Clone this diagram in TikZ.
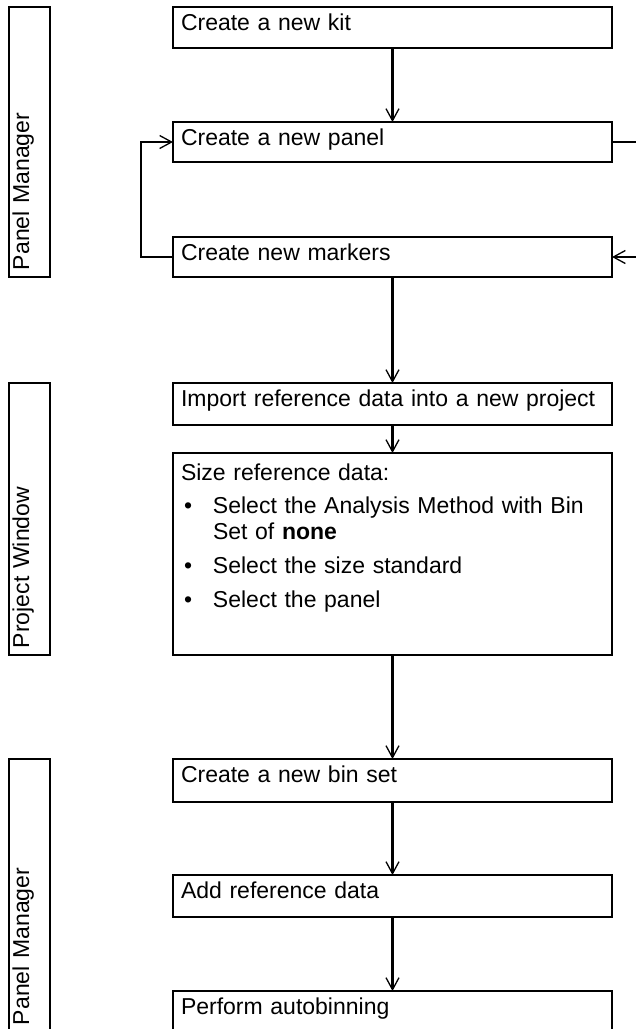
\documentclass[tikz,border=0pt]{standalone}
\usepackage{fontspec}
\setmainfont{Liberation Sans}
\usetikzlibrary{arrows.meta}
\tikzset{
  txt/.style={font=\fontsize{23}{26}\selectfont},
  stepbox/.style={txt, draw, line width=2.5pt, outer sep=0pt, anchor=north west,
    text width=423pt, inner xsep=8pt, inner ysep=0pt, align=left, text height=23pt},
  lanebox/.style={txt, draw, line width=2.5pt, outer sep=0pt, rotate=90, anchor=center,
    inner xsep=7pt, inner ysep=0pt, align=left, text height=20pt, text depth=21pt},
  conn/.style={line width=2.2pt},
  tip/.style={-{Straight Barb[length=12pt,width=13pt,line width=1.3pt]}}
}
\begin{document}
\begin{tikzpicture}[x=1pt,y=1pt]
\useasboundingbox (0,0) rectangle (636,-1029);
\clip (0,0) rectangle (636,-1029);
% lanes
\node[lanebox, text width=256pt] (lane1) at (29.5,-142) {Panel Manager};
\node[lanebox, text width=258pt] (lane2) at (29.5,-519) {Project Window};
\node[lanebox, text width=259pt] (lane3) at (29.5,-895.5) {Panel Manager};
% steps
\node[stepbox, text depth=18pt] (kit) at (173,-7) {Create a new kit};
\node[stepbox, text depth=17pt] (panel) at (173,-122) {Create a new panel};
\node[stepbox, text depth=17pt] (markers) at (173,-237) {Create new markers};
\node[stepbox, text depth=19pt] (import) at (173,-383) {Import reference data into a new project};
\node[stepbox, text height=27pt, text depth=175pt] (size) at (173,-453) {Size reference data:\\[7pt]
\hspace*{3pt}\makebox[29pt][l]{\textbullet}Select the Analysis Method with Bin\\
\hspace*{32pt}Set of \textbf{none}\\[8pt]
\hspace*{3pt}\makebox[29pt][l]{\textbullet}Select the size standard\\[8pt]
\hspace*{3pt}\makebox[29pt][l]{\textbullet}Select the panel};
\node[stepbox, text depth=20pt] (binset) at (173,-759) {Create a new bin set};
\node[stepbox, text depth=19pt] (addref) at (173,-875) {Add reference data};
\node[stepbox, text depth=18pt] (perform) at (173,-991) {Perform autobinning};
% connectors
\draw[conn,tip] (kit.south) -- (panel.north);
\draw[conn,tip] (markers.south) -- (import.north);
\draw[conn,tip] (import.south) -- (size.north);
\draw[conn,tip] (size.south) -- (binset.north);
\draw[conn,tip] (binset.south) -- (addref.north);
\draw[conn,tip] (addref.south) -- (perform.north);
\draw[conn,tip] (markers.west) -- ++(-32,0) |- (panel.west);
\coordinate (outA) at (640,-142);
\coordinate (outB) at (640,-257);
\draw[conn] (panel.east) -- (outA);
\draw[conn,tip] (outB) -- (markers.east);
\end{tikzpicture}
\end{document}
